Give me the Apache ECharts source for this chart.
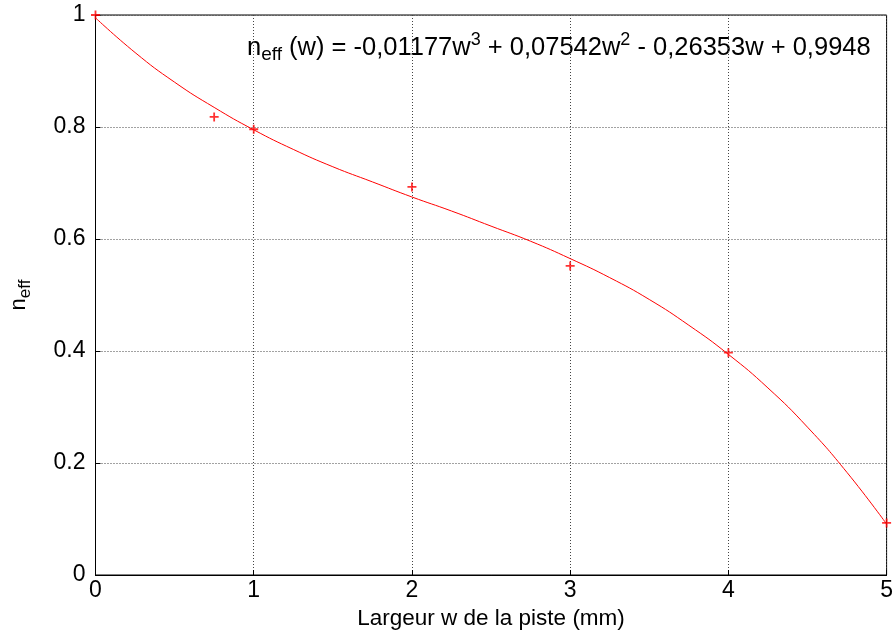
<!DOCTYPE html>
<html lang="fr">
<head>
	<meta charset="UTF-8">
	<title>n_eff</title>
	<style>
		* { margin: 0; padding: 0; }
		#box { width: 896px; height: 636px; background: #fff; }
	</style>
	<script src="https://cdn.jsdelivr.net/npm/echarts@6/dist/echarts.min.js"></script>
</head>
<body>
<div id="box"></div>
<script>
	// points mesurés (w en mm, n_eff)
	const measW = [0, 0.75, 1, 2, 3, 4, 5];
	const measN = [1.0, 0.818, 0.796, 0.693, 0.552, 0.397, 0.093];

	// courbe d'ajustement
	const fitW = [0, 0.25, 0.5, 0.75, 1, 1.25, 1.5, 1.75, 2, 2.25, 2.5, 2.75, 3, 3.25, 3.5, 3.75, 4, 4.25, 4.5, 4.75, 5];
	const fitN = [0.995, 0.933, 0.880, 0.835, 0.795, 0.760, 0.729, 0.702, 0.675, 0.650, 0.623, 0.596, 0.565, 0.531, 0.492, 0.446, 0.394, 0.334, 0.264, 0.183, 0.091];

	const xTicks = [0, 1, 2, 3, 4, 5];
	const yTicks = [0, 0.2, 0.4, 0.6, 0.8, 1];

	const font = 'Liberation Sans, Arial, sans-serif';
	const plus = 'path://M4,0H6V4H10V6H6V10H4V6H0V4H4Z';

	const myEcharts = echarts.init(document.getElementById('box'));
	myEcharts.setOption({
		animation: false,
		grid: {
			left: 93, right: 9, top: 15, bottom: 61,
			show: true, borderColor: '#000', borderWidth: 1, backgroundColor: 'transparent'
		},
		xAxis: {
			type: 'value', min: 0, max: 5, interval: 1,
			name: 'Largeur w de la piste (mm)', nameLocation: 'middle', nameGap: 32,
			nameTextStyle: { fontFamily: font, fontSize: 22.5, color: '#000' },
			axisLine: { lineStyle: { color: '#000', width: 1 } },
			axisTick: { inside: true, length: 5, lineStyle: { color: '#000' } },
			axisLabel: { fontFamily: font, fontSize: 23, color: '#000', margin: 4,
				formatter: v => xTicks.includes(v) ? String(v) : '' },
			splitLine: { show: true, lineStyle: { color: '#444', type: [1, 2], width: 1 } }
		},
		yAxis: {
			type: 'value', min: 0, max: 1, interval: 0.2,
			name: '{n|n}{s|eff}', nameLocation: 'middle', nameGap: 62, nameRotate: 90,
			nameTextStyle: {
				rich: {
					n: { fontFamily: font, fontSize: 22, color: '#000' },
					s: { fontFamily: font, fontSize: 17, color: '#000', padding: [12, 0, 0, 0] }
				}
			},
			axisLine: { show: true, lineStyle: { color: '#000', width: 1 } },
			axisTick: { show: true, inside: true, length: 5, lineStyle: { color: '#000' } },
			axisLabel: { fontFamily: font, fontSize: 23, color: '#000', margin: 10,
				formatter: v => {
					const t = yTicks.find(y => Math.abs(y - v) < 1e-6);
					return t === undefined ? '' : String(t);
				} },
			splitLine: { show: true, lineStyle: { color: '#444', type: [1, 2], width: 1 } }
		},
		graphic: [{
			type: 'text', left: 247, top: 31,
			style: {
				text: '{a|n}{b|eff}{a| (w) = -0,01177w}{c|3}{a| + 0,07542w}{c|2}{a| - 0,26353w + 0,9948}',
				rich: {
					a: { fontFamily: font, fontSize: 25.5, color: '#000' },
					b: { fontFamily: font, fontSize: 19, color: '#000', padding: [15, 0, 0, 0] },
					c: { fontFamily: font, fontSize: 18, color: '#000', padding: [0, 0, 15, 0] }
				}
			}
		}],
		series: [
			{
				type: 'line', smooth: true, showSymbol: false,
				data: fitW.map((w, i) => [w, fitN[i]]),
				lineStyle: { color: '#ff0000', width: 1 },
				clip: true, z: 3
			},
			{
				type: 'scatter', symbol: plus, symbolSize: 9,
				data: measW.map((w, i) => [w, measN[i]]),
				itemStyle: { color: '#ff0000' },
				clip: false, z: 4
			}
		]
	});
</script>
</body>
</html>
